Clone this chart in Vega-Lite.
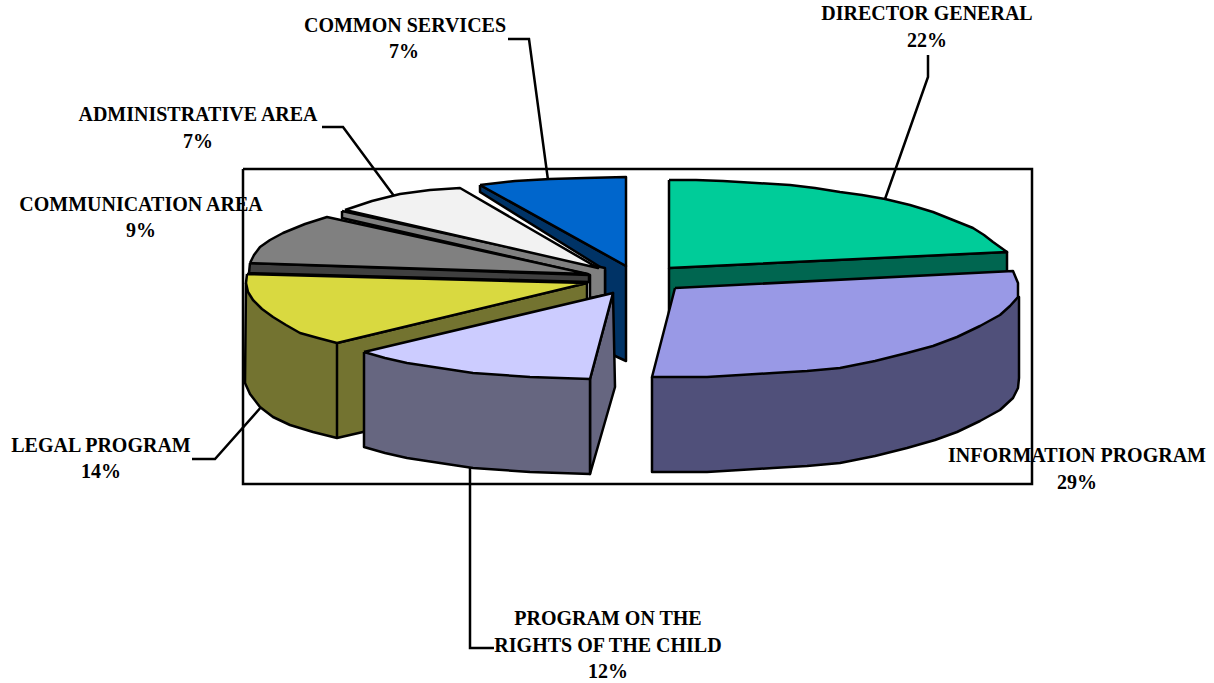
{"$schema":"https://vega.github.io/schema/vega-lite/v6.json","width":1214,"height":683,"autosize":{"type":"fit","contains":"padding"},"padding":0,"background":"white","config":{"view":{"stroke":null}},
"encoding":{"x":{"field":"x","type":"quantitative","scale":{"domain":[0,1214],"nice":false,"zero":false},"axis":null},"y":{"field":"y","type":"quantitative","scale":{"domain":[683,0],"nice":false,"zero":false},"axis":null}},
"layer":[
{"data":{"values":[
{"p":"frame","i":0,"x":243,"y":169},{"p":"frame","i":1,"x":1032,"y":169},{"p":"frame","i":2,"x":1032,"y":484},{"p":"frame","i":3,"x":243,"y":484},{"p":"frame","i":4,"x":243,"y":169}
]},"mark":{"type":"line","fill":"white","stroke":"#000","strokeWidth":2.5},"encoding":{"order":{"field":"i"},"detail":{"field":"p"}}},
{"data":{"values":[
{"p":"a","i":0,"x":928,"y":55},{"p":"a","i":1,"x":928,"y":77},{"p":"a","i":2,"x":885,"y":199},
{"p":"b","i":0,"x":508,"y":39},{"p":"b","i":1,"x":529,"y":39},{"p":"b","i":2,"x":548,"y":180},
{"p":"c","i":0,"x":322,"y":127},{"p":"c","i":1,"x":343,"y":127},{"p":"c","i":2,"x":394,"y":196},
{"p":"d","i":0,"x":192,"y":459},{"p":"d","i":1,"x":215,"y":459},{"p":"d","i":2,"x":262,"y":406},
{"p":"e","i":0,"x":470,"y":468},{"p":"e","i":1,"x":470,"y":648},{"p":"e","i":2,"x":494,"y":648}
]},"mark":{"type":"line","stroke":"#000","strokeWidth":2.5},"encoding":{"order":{"field":"i"},"detail":{"field":"p"}}},
{"data":{"values":[
{"p":"Director General side","i":0,"x":669,"y":268},{"p":"Director General side","i":1,"x":1007,"y":252},{"p":"Director General side","i":2,"x":1007,"y":272},{"p":"Director General side","i":3,"x":669,"y":315},{"p":"Director General side","i":4,"x":669,"y":268},
{"p":"Director General","i":0,"x":669,"y":180},{"p":"Director General","i":1,"x":696,"y":180},{"p":"Director General","i":2,"x":723,"y":181},{"p":"Director General","i":3,"x":756,"y":183},{"p":"Director General","i":4,"x":790,"y":185},{"p":"Director General","i":5,"x":815,"y":188},{"p":"Director General","i":6,"x":840,"y":192},{"p":"Director General","i":7,"x":862,"y":195},{"p":"Director General","i":8,"x":885,"y":199},{"p":"Director General","i":9,"x":910,"y":205},{"p":"Director General","i":10,"x":933,"y":212},{"p":"Director General","i":11,"x":953,"y":220},{"p":"Director General","i":12,"x":973,"y":228},{"p":"Director General","i":13,"x":984,"y":235},{"p":"Director General","i":14,"x":993,"y":242},{"p":"Director General","i":15,"x":1007,"y":252},{"p":"Director General","i":16,"x":669,"y":268},{"p":"Director General","i":17,"x":669,"y":180},
{"p":"Common Services side","i":0,"x":480,"y":185},{"p":"Common Services side","i":1,"x":626,"y":266},{"p":"Common Services side","i":2,"x":626,"y":361},{"p":"Common Services side","i":3,"x":613,"y":355},{"p":"Common Services side","i":4,"x":605,"y":295},{"p":"Common Services side","i":5,"x":605,"y":270},{"p":"Common Services side","i":6,"x":480,"y":192},{"p":"Common Services side","i":7,"x":480,"y":185},
{"p":"Common Services","i":0,"x":480,"y":185},{"p":"Common Services","i":1,"x":515,"y":181},{"p":"Common Services","i":2,"x":550,"y":179},{"p":"Common Services","i":3,"x":585,"y":178},{"p":"Common Services","i":4,"x":626,"y":177},{"p":"Common Services","i":5,"x":626,"y":266},{"p":"Common Services","i":6,"x":480,"y":185},
{"p":"Administrative Area side","i":0,"x":342,"y":211},{"p":"Administrative Area side","i":1,"x":605,"y":268},{"p":"Administrative Area side","i":2,"x":605,"y":295},{"p":"Administrative Area side","i":3,"x":590,"y":298},{"p":"Administrative Area side","i":4,"x":590,"y":275},{"p":"Administrative Area side","i":5,"x":342,"y":218},{"p":"Administrative Area side","i":6,"x":342,"y":211},
{"p":"Administrative Area","i":0,"x":345,"y":210},{"p":"Administrative Area","i":1,"x":372,"y":201},{"p":"Administrative Area","i":2,"x":400,"y":194},{"p":"Administrative Area","i":3,"x":430,"y":190},{"p":"Administrative Area","i":4,"x":460,"y":188},{"p":"Administrative Area","i":5,"x":598,"y":268},{"p":"Administrative Area","i":6,"x":345,"y":210},
{"p":"Communication Area side","i":0,"x":250,"y":263},{"p":"Communication Area side","i":1,"x":589,"y":275},{"p":"Communication Area side","i":2,"x":589,"y":282},{"p":"Communication Area side","i":3,"x":249,"y":273},{"p":"Communication Area side","i":4,"x":250,"y":263},
{"p":"Communication Area","i":0,"x":250,"y":263},{"p":"Communication Area","i":1,"x":254,"y":255},{"p":"Communication Area","i":2,"x":260,"y":247},{"p":"Communication Area","i":3,"x":270,"y":240},{"p":"Communication Area","i":4,"x":283,"y":233},{"p":"Communication Area","i":5,"x":305,"y":224},{"p":"Communication Area","i":6,"x":327,"y":217},{"p":"Communication Area","i":7,"x":588,"y":274},{"p":"Communication Area","i":8,"x":250,"y":263},
{"p":"Legal Program side","i":0,"x":246,"y":283},{"p":"Legal Program side","i":1,"x":245,"y":383},{"p":"Legal Program side","i":2,"x":250,"y":394},{"p":"Legal Program side","i":3,"x":260,"y":407},{"p":"Legal Program side","i":4,"x":273,"y":417},{"p":"Legal Program side","i":5,"x":290,"y":425},{"p":"Legal Program side","i":6,"x":313,"y":432},{"p":"Legal Program side","i":7,"x":337,"y":438},{"p":"Legal Program side","i":8,"x":363,"y":432},{"p":"Legal Program side","i":9,"x":587,"y":305},{"p":"Legal Program side","i":10,"x":587,"y":283},{"p":"Legal Program side","i":11,"x":337,"y":343},{"p":"Legal Program side","i":12,"x":246,"y":283},
{"p":"Legal Program edge","i":0,"x":337,"y":343},{"p":"Legal Program edge","i":1,"x":337,"y":438},
{"p":"Legal Program","i":0,"x":247,"y":274},{"p":"Legal Program","i":1,"x":246,"y":283},{"p":"Legal Program","i":2,"x":248,"y":292},{"p":"Legal Program","i":3,"x":253,"y":300},{"p":"Legal Program","i":4,"x":262,"y":309},{"p":"Legal Program","i":5,"x":273,"y":317},{"p":"Legal Program","i":6,"x":286,"y":325},{"p":"Legal Program","i":7,"x":300,"y":333},{"p":"Legal Program","i":8,"x":318,"y":338},{"p":"Legal Program","i":9,"x":337,"y":343},{"p":"Legal Program","i":10,"x":587,"y":283},{"p":"Legal Program","i":11,"x":247,"y":274},
{"p":"Information Program side","i":0,"x":652,"y":377},{"p":"Information Program side","i":1,"x":652,"y":472},{"p":"Information Program side","i":2,"x":707,"y":472},{"p":"Information Program side","i":3,"x":740,"y":470},{"p":"Information Program side","i":4,"x":773,"y":468},{"p":"Information Program side","i":5,"x":807,"y":466},{"p":"Information Program side","i":6,"x":840,"y":463},{"p":"Information Program side","i":7,"x":875,"y":456},{"p":"Information Program side","i":8,"x":907,"y":448},{"p":"Information Program side","i":9,"x":935,"y":440},{"p":"Information Program side","i":10,"x":957,"y":432},{"p":"Information Program side","i":11,"x":980,"y":421},{"p":"Information Program side","i":12,"x":1000,"y":410},{"p":"Information Program side","i":13,"x":1013,"y":398},{"p":"Information Program side","i":14,"x":1018,"y":388},{"p":"Information Program side","i":15,"x":1019,"y":378},{"p":"Information Program side","i":16,"x":1019,"y":297},{"p":"Information Program side","i":17,"x":652,"y":377},
{"p":"Information Program","i":0,"x":675,"y":288},{"p":"Information Program","i":1,"x":1013,"y":271},{"p":"Information Program","i":2,"x":1018,"y":283},{"p":"Information Program","i":3,"x":1018,"y":297},{"p":"Information Program","i":4,"x":1010,"y":306},{"p":"Information Program","i":5,"x":1000,"y":315},{"p":"Information Program","i":6,"x":980,"y":326},{"p":"Information Program","i":7,"x":957,"y":337},{"p":"Information Program","i":8,"x":933,"y":346},{"p":"Information Program","i":9,"x":907,"y":353},{"p":"Information Program","i":10,"x":875,"y":361},{"p":"Information Program","i":11,"x":840,"y":368},{"p":"Information Program","i":12,"x":807,"y":371},{"p":"Information Program","i":13,"x":773,"y":373},{"p":"Information Program","i":14,"x":740,"y":375},{"p":"Information Program","i":15,"x":707,"y":377},{"p":"Information Program","i":16,"x":652,"y":377},{"p":"Information Program","i":17,"x":675,"y":288},
{"p":"Rights of the Child inner","i":0,"x":590,"y":379},{"p":"Rights of the Child inner","i":1,"x":613,"y":293},{"p":"Rights of the Child inner","i":2,"x":615,"y":387},{"p":"Rights of the Child inner","i":3,"x":590,"y":474},{"p":"Rights of the Child inner","i":4,"x":590,"y":379},
{"p":"Rights of the Child side","i":0,"x":364,"y":352},{"p":"Rights of the Child side","i":1,"x":364,"y":447},{"p":"Rights of the Child side","i":2,"x":385,"y":453},{"p":"Rights of the Child side","i":3,"x":407,"y":458},{"p":"Rights of the Child side","i":4,"x":440,"y":463},{"p":"Rights of the Child side","i":5,"x":473,"y":468},{"p":"Rights of the Child side","i":6,"x":530,"y":472},{"p":"Rights of the Child side","i":7,"x":590,"y":474},{"p":"Rights of the Child side","i":8,"x":590,"y":379},{"p":"Rights of the Child side","i":9,"x":364,"y":352},
{"p":"Rights of the Child","i":0,"x":364,"y":352},{"p":"Rights of the Child","i":1,"x":385,"y":358},{"p":"Rights of the Child","i":2,"x":407,"y":363},{"p":"Rights of the Child","i":3,"x":440,"y":368},{"p":"Rights of the Child","i":4,"x":473,"y":373},{"p":"Rights of the Child","i":5,"x":530,"y":377},{"p":"Rights of the Child","i":6,"x":590,"y":379},{"p":"Rights of the Child","i":7,"x":613,"y":293},{"p":"Rights of the Child","i":8,"x":364,"y":352}
]},"mark":{"type":"line","stroke":"#000","strokeWidth":2.5,"strokeJoin":"round"},"encoding":{"order":{"field":"i"},"detail":{"field":"p"},
"fill":{"field":"p","type":"nominal","legend":null,"scale":{"domain":["Director General side","Director General","Common Services side","Common Services","Administrative Area side","Administrative Area","Communication Area side","Communication Area","Legal Program side","Legal Program edge","Legal Program","Information Program side","Information Program","Rights of the Child inner","Rights of the Child side","Rights of the Child"],"range":["#006650","#00cc99","#003366","#0066cc","#808080","#f2f2f2","#404040","#808080","#737330","#737330","#d9d940","#50507a","#9999e6","#666680","#666680","#ccccff"]}}}},
{"data":{"values":[
{"t":"DIRECTOR GENERAL","x":927,"y":14},{"t":"22%","x":927,"y":41},
{"t":"COMMON SERVICES","x":405,"y":26},{"t":"7%","x":404,"y":52},
{"t":"ADMINISTRATIVE AREA","x":198,"y":115},{"t":"7%","x":198,"y":142},
{"t":"COMMUNICATION AREA","x":141,"y":205},{"t":"9%","x":141,"y":231},
{"t":"LEGAL PROGRAM","x":101,"y":446},{"t":"14%","x":101,"y":472},
{"t":"INFORMATION PROGRAM","x":1077,"y":456},{"t":"29%","x":1077,"y":483},
{"t":"PROGRAM ON THE","x":608,"y":619},{"t":"RIGHTS OF THE CHILD","x":608,"y":646},{"t":"12%","x":608,"y":672}
]},"mark":{"type":"text","font":"Liberation Serif","fontWeight":"bold","fontSize":20,"fill":"#000","align":"center","baseline":"middle"},"encoding":{"text":{"field":"t"}}}
]}
